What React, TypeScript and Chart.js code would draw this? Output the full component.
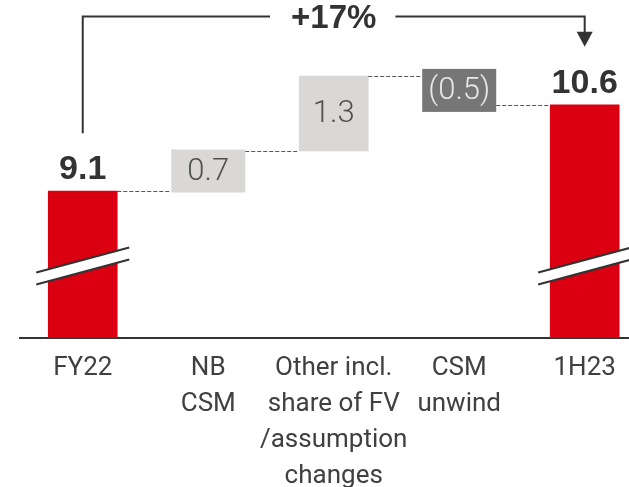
import { useEffect, useRef } from "react"
import { Chart, registerables, type ChartConfiguration, type Plugin } from "chart.js"

Chart.register(...registerables)

// categories (multi-line tick labels)
const CATEGORIES: string[][] = [
  ["FY22"],
  ["NB", "CSM"],
  ["Other incl.", "share of FV", "/assumption", "changes"],
  ["CSM", "unwind"],
  ["1H23"],
]
// first and last are totals, the rest are changes
const STEP_VALUES = [9.1, 0.7, 1.3, -0.5, 10.6]
const IS_TOTAL = [true, false, false, false, true]
const BAR_COLORS = ["#DB0011", "#D9D8D6", "#D9D8D6", "#767676", "#DB0011"]
const LABEL_COLORS = ["#333333", "#505050", "#505050", "#E8E8E8", "#333333"]
const GROWTH_LABEL = "+17%"

const Y_MIN = 6.55
const Y_MAX = 12.42
const BREAK_AT = 7.8
const MIN_BOX_H = 43

const FONT = "Roboto, 'Liberation Sans', Arial, sans-serif"
const BOLD_FONT = "'Liberation Sans', Arial, sans-serif"

function fmt(v: number) {
  return v < 0 ? `(${Math.abs(v).toFixed(1)})` : v.toFixed(1)
}

// floating ranges for the waterfall
const ranges: [number, number][] = []
const levels: number[] = []
{
  let run = 0
  STEP_VALUES.forEach((v, i) => {
    if (IS_TOTAL[i]) {
      ranges.push([Y_MIN, v])
      run = v
    } else {
      ranges.push([run, run + v])
      run += v
    }
    levels.push(run)
  })
}

const waterfallPlugin: Plugin<"bar"> = {
  id: "waterfall",
  afterDatasetsDraw(chart) {
    const ctx = chart.ctx
    const meta = chart.getDatasetMeta(0)
    const y = chart.scales.y
    const bars = meta.data.map((el: any) => {
      const p = el.getProps(["x", "y", "base", "width"], true)
      const top = Math.min(p.y, p.base)
      const bottom = Math.max(p.y, p.base)
      return { x: p.x, left: p.x - p.width / 2, right: p.x + p.width / 2, top, bottom }
    })

    // expand small change boxes so the label fits
    bars.forEach((b, i) => {
      if (IS_TOTAL[i]) return
      const h = b.bottom - b.top
      if (h < MIN_BOX_H) {
        const mid = (b.top + b.bottom) / 2
        b.top = mid - MIN_BOX_H / 2
        b.bottom = mid + MIN_BOX_H / 2
        b.left -= 2.5
        b.right += 2.5
        ctx.save()
        ctx.fillStyle = BAR_COLORS[i]
        ctx.fillRect(b.left, b.top, b.right - b.left, b.bottom - b.top)
        ctx.restore()
      }
    })

    // connectors
    ctx.save()
    ctx.strokeStyle = "#555555"
    ctx.lineWidth = 1
    ctx.setLineDash([4, 2])
    for (let i = 0; i < bars.length - 1; i++) {
      const yy = Math.round(y.getPixelForValue(levels[i])) + 0.5
      ctx.beginPath()
      ctx.moveTo(bars[i].right, yy)
      ctx.lineTo(bars[i + 1].left, yy)
      ctx.stroke()
    }
    ctx.restore()

    // break marks on total bars
    const by = y.getPixelForValue(BREAK_AT)
    bars.forEach((b, i) => {
      if (!IS_TOTAL[i]) return
      const x0 = b.left - 12
      const x1 = b.right + 12
      const rise = 25
      const gap = 12
      ctx.save()
      ctx.fillStyle = "#ffffff"
      ctx.beginPath()
      ctx.moveTo(x0, by + rise / 2 - gap / 2)
      ctx.lineTo(x1, by - rise / 2 - gap / 2)
      ctx.lineTo(x1, by - rise / 2 + gap / 2)
      ctx.lineTo(x0, by + rise / 2 + gap / 2)
      ctx.closePath()
      ctx.fill()
      ctx.strokeStyle = "#333333"
      ctx.lineWidth = 2
      for (const off of [-gap / 2, gap / 2]) {
        ctx.beginPath()
        ctx.moveTo(x0, by + rise / 2 + off)
        ctx.lineTo(x1, by - rise / 2 + off)
        ctx.stroke()
      }
      ctx.restore()
    })

    // value labels
    ctx.save()
    ctx.textAlign = "center"
    bars.forEach((b, i) => {
      ctx.fillStyle = LABEL_COLORS[i]
      if (IS_TOTAL[i]) {
        ctx.font = `bold 34px ${BOLD_FONT}`
        ctx.textBaseline = "alphabetic"
        ctx.fillText(fmt(STEP_VALUES[i]), b.x, b.top - 12)
      } else {
        ctx.font = `300 31px ${FONT}`
        ctx.textBaseline = "middle"
        ctx.fillText(fmt(STEP_VALUES[i]), b.x, (b.top + b.bottom) / 2 + 1)
      }
    })
    ctx.restore()

    // growth bracket
    const first = bars[0]
    const last = bars[bars.length - 1]
    const topY = chart.chartArea.top + 16.5
    const midX = (first.x + last.x) / 2
    ctx.save()
    ctx.font = `bold 33px ${BOLD_FONT}`
    const tw = ctx.measureText(GROWTH_LABEL).width
    ctx.strokeStyle = "#333333"
    ctx.fillStyle = "#333333"
    ctx.lineWidth = 2
    ctx.beginPath()
    ctx.moveTo(first.x, first.top - 58)
    ctx.lineTo(first.x, topY)
    ctx.lineTo(midX - tw / 2 - 21, topY)
    ctx.moveTo(midX + tw / 2 + 19, topY)
    ctx.lineTo(last.x, topY)
    ctx.lineTo(last.x, last.top - 72)
    ctx.stroke()
    const tip = last.top - 58
    ctx.beginPath()
    ctx.moveTo(last.x - 8, tip - 15)
    ctx.lineTo(last.x + 8, tip - 15)
    ctx.lineTo(last.x, tip)
    ctx.closePath()
    ctx.fill()
    ctx.textAlign = "center"
    ctx.textBaseline = "middle"
    ctx.fillText(GROWTH_LABEL, midX, topY + 2)
    ctx.restore()
  },
}

export default function App() {
  const canvasRef = useRef<HTMLCanvasElement>(null)
  const chartRef = useRef<Chart | null>(null)

  useEffect(() => {
    if (!canvasRef.current) return
    const config: ChartConfiguration<"bar"> = {
      type: "bar",
      data: {
        datasets: [
          {
            data: ranges.map((r, i) => ({ x: i, y: r })) as any,
            backgroundColor: BAR_COLORS,
            borderWidth: 0,
            barThickness: 69,
          },
        ],
      },
      options: {
        animation: false,
        responsive: true,
        maintainAspectRatio: false,
        layout: { padding: { left: 20, right: 0, top: 0, bottom: 0 } },
        plugins: { legend: { display: false }, tooltip: { enabled: false } },
        scales: {
          x: {
            type: "linear",
            min: -0.5,
            max: 4.353,
            offset: false,
            grid: { display: false, offset: false },
            border: { display: true, color: "#333333", width: 2 },
            afterBuildTicks: (scale: any) => {
              scale.ticks = CATEGORIES.map((_, i) => ({ value: i }))
            },
            afterFit: (scale: any) => {
              scale.height = 149
              scale.paddingLeft = 0
              scale.paddingRight = 0
            },
            ticks: {
              autoSkip: false,
              maxRotation: 0,
              padding: 4,
              color: "#404040",
              font: { family: FONT, size: 26, lineHeight: 1.39 },
              callback: (v: any) => CATEGORIES[v as number] ?? "",
            },
          },
          y: {
            display: false,
            min: Y_MIN,
            max: Y_MAX,
          },
        },
      },
      plugins: [waterfallPlugin],
    }
    chartRef.current = new Chart(canvasRef.current, config)
    return () => {
      chartRef.current?.destroy()
      chartRef.current = null
    }
  }, [])

  return (
    <div style={{ position: "fixed", left: 0, top: 0, width: 629, height: 487, background: "#fff" }}>
      <canvas ref={canvasRef}></canvas>
    </div>
  )
}
